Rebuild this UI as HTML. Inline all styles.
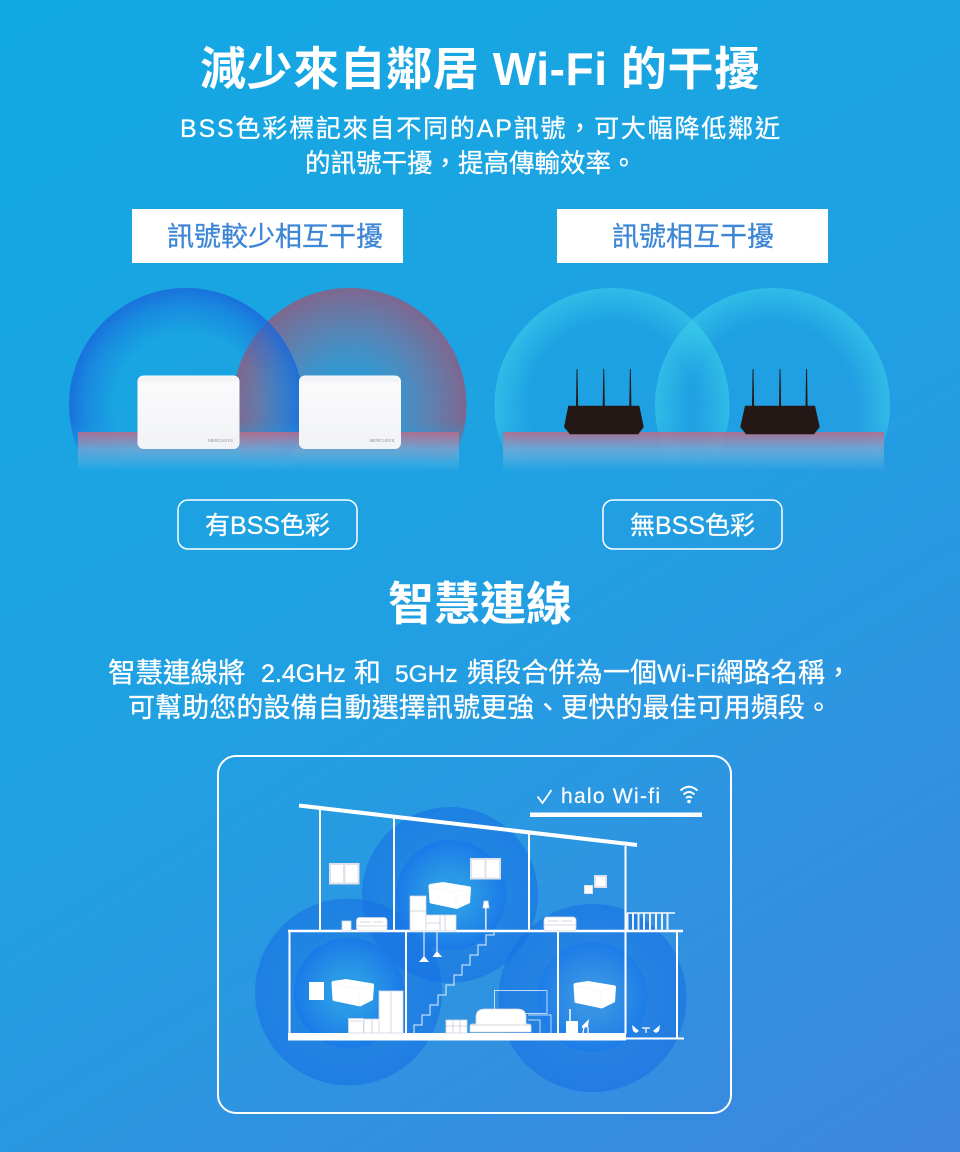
<!DOCTYPE html>
<html lang="zh-Hant"><head><meta charset="utf-8"><title>BSS</title>
<style>
html,body{margin:0;padding:0;width:960px;height:1152px;overflow:hidden}
svg{display:block}
text{font-family:"Liberation Sans","Noto Sans CJK TC",sans-serif}
.t{stroke:#fff;stroke-width:.3px;fill:#fff}
</style></head><body>
<svg width="960" height="1152" viewBox="0 0 960 1152" xmlns="http://www.w3.org/2000/svg">
<defs>
<linearGradient id="bg" gradientUnits="userSpaceOnUse" x1="100" y1="-50" x2="860" y2="1200">
<stop offset="0" stop-color="#12a9e3"/><stop offset=".5" stop-color="#20a0e2"/><stop offset="1" stop-color="#3e86e0"/></linearGradient>
<radialGradient id="bl"><stop offset=".62" stop-color="#1a6cdc" stop-opacity="0"/><stop offset=".85" stop-color="#1a6cdc" stop-opacity=".45"/><stop offset="1" stop-color="#1a68da" stop-opacity=".85"/></radialGradient>
<radialGradient id="rd"><stop offset="0" stop-color="#9a6a8a" stop-opacity="0"/><stop offset=".45" stop-color="#9a6a8a" stop-opacity=".3"/><stop offset="1" stop-color="#8f5c80" stop-opacity=".85"/></radialGradient>
<radialGradient id="cy"><stop offset=".7" stop-color="#3fd2ec" stop-opacity="0"/><stop offset="1" stop-color="#3fd2ec" stop-opacity=".55"/></radialGradient>
<radialGradient id="ho"><stop offset=".5" stop-color="#1670e4" stop-opacity=".42"/><stop offset="1" stop-color="#1670e4" stop-opacity=".6"/></radialGradient>
<radialGradient id="hi"><stop offset=".35" stop-color="#2b9ae6"/><stop offset="1" stop-color="#1a7ae8"/></radialGradient>
<radialGradient id="hi2"><stop offset=".35" stop-color="#3592e4"/><stop offset="1" stop-color="#1d7ce8"/></radialGradient>
<linearGradient id="fl" x1="0" y1="0" x2="0" y2="1"><stop offset="0" stop-color="#b86a8a" stop-opacity=".9"/><stop offset=".45" stop-color="#8aa8d0" stop-opacity=".65"/><stop offset="1" stop-color="#8fc8ea" stop-opacity="0"/></linearGradient>
<linearGradient id="fade" gradientUnits="userSpaceOnUse" x1="0" y1="420" x2="0" y2="462"><stop offset="0" stop-color="#fff"/><stop offset="1" stop-color="#000"/></linearGradient>
<mask id="m" maskUnits="userSpaceOnUse" x="0" y="270" width="960" height="210"><rect x="0" y="270" width="960" height="150" fill="#fff"/><rect x="0" y="420" width="960" height="42" fill="url(#fade)"/></mask>
<linearGradient id="box" x1="0" y1="0" x2="0" y2="1"><stop offset="0" stop-color="#fbfbfc"/><stop offset="1" stop-color="#f2f3f6"/></linearGradient>
</defs>
<rect width="960" height="1152" fill="url(#bg)"/>

<text x="200" y="85" font-size="46" font-weight="700" fill="#fff" textLength="560" lengthAdjust="spacing">減少來自鄰居 Wi-Fi 的干擾</text>
<text class="t" x="180" y="137" font-size="25" textLength="600" lengthAdjust="spacing">BSS色彩標記來自不同的AP訊號&#xFF0C;可大幅降低鄰近</text>
<text class="t" x="305" y="172" font-size="25.500">的訊號干擾&#xFF0C;提高傳輸效率。</text>

<rect x="132" y="209" width="271" height="54" fill="#fff"/>
<rect x="557" y="209" width="271" height="54" fill="#fff"/>
<text x="167" y="246" font-size="27" fill="#3d86d6" stroke="#3d86d6" stroke-width=".3">訊號較少相互干擾</text>
<text x="612" y="246" font-size="27" fill="#3d86d6" stroke="#3d86d6" stroke-width=".3">訊號相互干擾</text>

<g mask="url(#m)">
<circle cx="349.500" cy="405" r="117" fill="url(#rd)"/>
<circle cx="186" cy="405" r="117" fill="url(#bl)"/>
<circle cx="612" cy="405.500" r="117.500" fill="url(#cy)"/>
<circle cx="772.500" cy="405.500" r="117.500" fill="url(#cy)"/>
</g>
<rect x="78" y="432" width="381" height="39" fill="url(#fl)"/>
<rect x="503" y="432" width="381" height="39" fill="url(#fl)"/>

<rect x="137.500" y="375.500" width="102" height="73.500" rx="6" fill="url(#box)"/>
<path d="M139 382q0-6 6-6h87q6 0 6 6z" fill="#f3f4f6"/>
<text x="208" y="442" font-size="4.500" fill="#8d93a3" textLength="25">MERCUSYS</text>
<rect x="299" y="375.500" width="102" height="73.500" rx="6" fill="url(#box)"/>
<path d="M300.500 382q0-6 6-6h87q6 0 6 6z" fill="#f3f4f6"/>
<text x="369.500" y="442" font-size="4.500" fill="#8d93a3" textLength="25">MERCUSYS</text>

<g fill="#231815">
<path d="M568.300 405.700H639.300L643.700 427 638.300 434.300H570L564 427z"/>
<path d="M576 406l.600-37h.900l.600 37zM602.700 406l.600-37h.900l.600 37zM629.300 406l.600-37h.900l.600 37z"/>
<path d="M745 405.700H815L819.700 427 814 434.300H746L740.300 427z"/>
<path d="M752 406l.600-37h.900l.600 37zM779 406l.600-37h.900l.600 37zM805.500 406l.600-37h.900l.600 37z"/>
</g>

<rect x="178" y="500" width="179" height="49" rx="10" fill="none" stroke="#fff" stroke-width="1.500"/>
<rect x="603" y="500" width="179" height="49" rx="10" fill="none" stroke="#fff" stroke-width="1.500"/>
<text class="t" x="267.500" y="534" font-size="25" text-anchor="middle">有BSS色彩</text>
<text class="t" x="692.500" y="534" font-size="25" text-anchor="middle">無BSS色彩</text>

<text x="480" y="620" font-size="46" font-weight="700" fill="#fff" text-anchor="middle">智慧連線</text>
<text class="t" y="682" font-size="27.500"><tspan x="108">智慧連線將</tspan><tspan x="261" font-size="25">2.4GHz</tspan><tspan x="354" font-size="27">和</tspan><tspan x="395" font-size="24.500">5GHz</tspan></text>
<text class="t" x="467" y="682" font-size="27" textLength="385" lengthAdjust="spacing">頻段合併為一個<tspan font-size="25">Wi-Fi</tspan>網路名稱&#xFF0C;</text>
<text class="t" x="128" y="717" font-size="27" textLength="704" lengthAdjust="spacing">可幫助您的設備自動選擇訊號更強、更快的最佳可用頻段。</text>

<rect x="218" y="756" width="513" height="357" rx="18" fill="none" stroke="#fff" stroke-width="2"/>

<circle cx="450" cy="895" r="88" fill="url(#ho)"/>
<circle cx="348.500" cy="992" r="93.500" fill="url(#ho)"/>
<circle cx="592.500" cy="998" r="94" fill="url(#ho)"/>
<circle cx="451" cy="895" r="55" fill="url(#hi)"/>
<circle cx="349" cy="993" r="55" fill="url(#hi)"/>
<circle cx="592.500" cy="997" r="55" fill="url(#hi2)"/>

<g stroke="#fff" fill="none">
<path d="M299 805.500L637 845" stroke-width="4"/>
<path d="M320 810V931M394 818V931M529 834V931M625.500 846V1034M289.500 930V1036M406 931V1034M558 931V1034M677 931V1038" stroke-width="2"/>
<path d="M288 931H683" stroke-width="2.500"/>
<path d="M625 1038.500H684" stroke-width="2"/>
</g>
<rect x="288" y="1033" width="338" height="7.500" fill="#fff"/>

<g fill="#dfe2ea">
<rect x="329" y="863" width="30.500" height="21.500"/>
<rect x="470" y="858" width="31" height="21.500"/>
<rect x="594" y="875" width="13" height="13"/>
<rect x="584" y="885" width="9" height="9"/>
</g>
<g fill="#fff">
<rect x="331" y="865" width="12" height="17.500"/><rect x="345.500" y="865" width="12" height="17.500"/>
<rect x="472" y="860" width="12.500" height="17.500"/><rect x="486.500" y="860" width="12.500" height="17.500"/>
<rect x="596" y="877" width="9" height="9"/>
<rect x="585" y="886" width="7" height="7"/>
</g>

<g fill="#fff" stroke="#d4d8e4" stroke-width=".8">
<rect x="410" y="896" width="16" height="35"/>
<path d="M410 911h16" stroke="#c8ccd8"/>
<rect x="426" y="915" width="30" height="16"/>
<path d="M440 915v16M426 923h14M445 915v16" stroke="#c8ccd8"/>
<path d="M483 908l1-7h4l1 7z"/>
<rect x="485" y="908" width="1.600" height="23" fill="#dfe3ec" stroke="none"/>
<rect x="356.500" y="917.500" width="30.500" height="13.500" rx="3"/>
<path d="M357 926h30M360 922h10M373 922h10" stroke="#c8ccd8"/>
<rect x="342" y="921" width="9" height="10"/>
<rect x="544" y="917" width="32" height="14" rx="3"/>
<path d="M544 925h32M548 921h11M561 921h11" stroke="#c8ccd8"/>
<rect x="309" y="982" width="15" height="18" stroke="none"/>
<rect x="379" y="991" width="24" height="42"/>
<path d="M391 991v42" stroke="#c8ccd8"/>
<rect x="348.500" y="1018.500" width="15" height="14.500"/>
<rect x="364" y="1019" width="15" height="14"/>
<path d="M372 1019v14M350 1021h12" stroke="#c8ccd8"/>
<rect x="446" y="1020" width="21" height="13"/>
<path d="M446 1026h21M453 1020v13M460 1020v13" stroke="#c8ccd8"/>
<path d="M470 1032v-6q0-2 3-2h3v-7q0-8 9-8h32q9 0 9 8v7h2q3 0 3 2v6z"/>
<path d="M470 1025h61" stroke="#c8ccd8"/>
</g>

<g fill="none" stroke="#fff" stroke-opacity=".7" stroke-width="1">
<rect x="494.500" y="990.500" width="52.500" height="23"/>
<path d="M528 1015h23v18M528 1020h12v13"/>
<path d="M414 1033v-8h8v-10h8v-10h8v-10h8v-10h8v-10h8v-10h8v-10h8v-10h8v-10h8v-3" stroke-width="1.300"/>
</g>
<path d="M424 931v27M437 931v22" stroke="#dfe6f2" stroke-width="1.200" fill="none"/>
<path d="M419 962l5-6 5 6zM432.500 957l4.500-6 5 6z" fill="#fff"/>
<path d="M627 913H675" stroke="#fff" stroke-width="1.500" fill="none"/>
<path d="M627.500 913V931M633 913V931M638.500 913V931M644 913V931M650 913V931M656 913V931M662 913V931M667.500 913V931" stroke="#eef1f7" stroke-width="2" fill="none"/>
<rect x="566" y="1021" width="12" height="12" fill="#fff"/>
<path d="M570 1009v12" stroke="#fff" stroke-width="1.500"/>
<path d="M582 1026l7-7-1 8-6 1zM632 1025l7 6-3 2-3-2zM660 1025l-7 6 3 2 3-2z" fill="#fff"/>
<path d="M583 1033l1-6M588 1033v-6M642 1028h8M646 1028v5" stroke="#fff" stroke-width="1.200" fill="none"/>

<g fill="#fff">
<path d="M428.500 886q0-1.500 1.500-2l13-2 27 4.500q1 .2 1 1.500l-1 15-13 6-26-5.500q-1.500-.3-1.500-2z"/>
<path d="M331.500 983q0-1.500 1.500-2l13-2 27 4.500q1 .2 1 1.500l-1 15-13 6.500-26-5.500q-1.500-.3-1.500-2z"/>
<path d="M573.500 985q0-1.500 1.500-2l13-2 27 4.500q1 .2 1 1.500l-1 15-13 6.500-26-5.500q-1.500-.3-1.500-2z"/>
</g>
<path d="M429 887l27 5 14-4.500M456 892v17M332 984l27 5 14-4.500M359 989v17M574 986l27 5 14-4.500M601 991v17" stroke="#f0f2f6" stroke-width=".6" fill="none"/>

<path d="M537.500 796.500l5 6.500 9-13" fill="none" stroke="#fff" stroke-width="1.800"/>
<text class="t" x="561" y="803" font-size="21" textLength="99" lengthAdjust="spacing" style="stroke-width:.2px">halo Wi-fi</text>
<g fill="none" stroke="#fff" stroke-width="2">
<path d="M680.500 790.500q8.500-7.500 17 0M683.500 794.500q5.500-5 11 0M686 798q3-2.500 6 0"/>
</g>
<circle cx="689" cy="801.500" r="1.800" fill="#fff"/>
<rect x="530" y="812.500" width="172" height="4.500" fill="#fff"/>
</svg>
</body></html>
